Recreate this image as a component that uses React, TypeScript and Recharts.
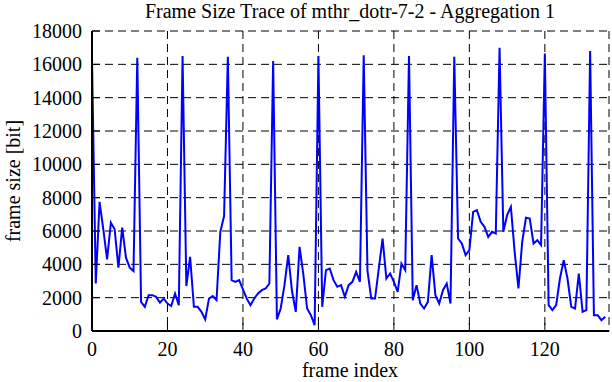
import React from 'react';
import { LineChart, Line, XAxis, YAxis, CartesianGrid } from 'recharts';

// Frame sizes [bit] per frame index (aggregation 1)
const frameSizes: number[] = [
  16300, 2850, 7750, 6100, 4300, 6500, 6100, 3800, 6200, 4400,
  3800, 3600, 16400, 1750, 1450, 2150, 2150, 2050, 1700, 1950,
  1650, 1500, 2250, 1550, 16500, 2700, 4450, 1450, 1450, 1150,
  700, 1950, 2100, 1850, 5950, 6900, 16450, 3050, 2950, 3050,
  2500, 1950, 1550, 1950, 2250, 2450, 2550, 2850, 16200, 700,
  1350, 2750, 4550, 2400, 1150, 5050, 3400, 1350, 950, 350,
  16500, 1450, 3650, 3750, 3050, 2650, 2750, 2050, 2750, 2950,
  3550, 2950, 16550, 3600, 1950, 1950, 3750, 5550, 3150, 3450,
  2950, 2350, 4050, 3650, 16500, 1850, 2750, 1650, 1350, 1750,
  4550, 2150, 1650, 2450, 2850, 1650, 16450, 5550, 5250, 4550,
  4850, 7150, 7250, 6550, 6250, 5650, 5950, 5850, 17000, 5950,
  6950, 7450, 4750, 2550, 5350, 6800, 6750, 5250, 5450, 5150,
  16650, 1550, 1250, 1550, 3150, 4250, 3150, 1450, 1350, 3450,
  1150, 1250, 16800, 950, 950, 650, 850,
];

const xTicks: number[] = [0, 20, 40, 60, 80, 100, 120];
const yTicks: number[] = [0, 2000, 4000, 6000, 8000, 10000, 12000, 14000, 16000, 18000];
const xDomain: [number, number] = [0, 137];
const yDomain: [number, number] = [0, 18000];

const titleText = 'Frame Size Trace of mthr_dotr-7-2 - Aggregation 1';
const xLabelText = 'frame index';
const yLabelText = 'frame size [bit]';

const data = frameSizes.map((size, frame) => ({ frame, size }));

const FONT = '"Liberation Serif", "Times New Roman", Times, serif';
const tickStyle = { fill: '#000', fontSize: 20, fontFamily: FONT };
const axisLineStyle = { stroke: '#000', strokeWidth: 2 };
const tickLineStyle = { stroke: '#000', strokeWidth: 1 };

export default function App() {
  return (
    <div style={{ position: 'absolute', left: 0, top: 0, width: 612, height: 382, background: '#fff' }}>
      <LineChart width={612} height={382} data={data} margin={{ top: 31, right: 3, bottom: 0, left: 0 }}>
        <CartesianGrid stroke="#000" strokeWidth={1} strokeDasharray="8 5" />
        <XAxis
          dataKey="frame"
          type="number"
          domain={xDomain}
          ticks={xTicks}
          interval={0}
          allowDataOverflow
          height={51}
          tickSize={-8}
          tickMargin={19}
          tick={tickStyle}
          axisLine={axisLineStyle}
          tickLine={tickLineStyle}
        />
        <XAxis
          xAxisId="top"
          orientation="top"
          dataKey="frame"
          type="number"
          domain={xDomain}
          ticks={xTicks}
          interval={0}
          allowDataOverflow
          height={0}
          tickSize={-8}
          tick={false}
          axisLine={axisLineStyle}
          tickLine={tickLineStyle}
        />
        <YAxis
          type="number"
          domain={yDomain}
          ticks={yTicks}
          interval={0}
          allowDataOverflow
          width={92}
          tickSize={-8}
          tickMargin={18}
          tick={tickStyle}
          axisLine={axisLineStyle}
          tickLine={tickLineStyle}
        />
        <YAxis
          yAxisId="right"
          orientation="right"
          type="number"
          domain={yDomain}
          ticks={yTicks}
          interval={0}
          allowDataOverflow
          width={0}
          tickSize={-8}
          tick={false}
          axisLine={axisLineStyle}
          tickLine={tickLineStyle}
        />
        <Line
          type="linear"
          dataKey="size"
          stroke="#0000ff"
          strokeWidth={2}
          dot={false}
          activeDot={false}
          isAnimationActive={false}
        />
      </LineChart>
      <svg
        width={612}
        height={382}
        style={{ position: 'absolute', left: 0, top: 0, pointerEvents: 'none' }}
      >
        <text x={350} y={18} textAnchor="middle" fontFamily={FONT} fontSize={20} fill="#000">
          {titleText}
        </text>
        <text x={350} y={377} textAnchor="middle" fontFamily={FONT} fontSize={20} fill="#000">
          {xLabelText}
        </text>
        <text
          x={20}
          y={181}
          textAnchor="middle"
          fontFamily={FONT}
          fontSize={20}
          fill="#000"
          transform="rotate(-90 20 181)"
        >
          {yLabelText}
        </text>
      </svg>
    </div>
  );
}
